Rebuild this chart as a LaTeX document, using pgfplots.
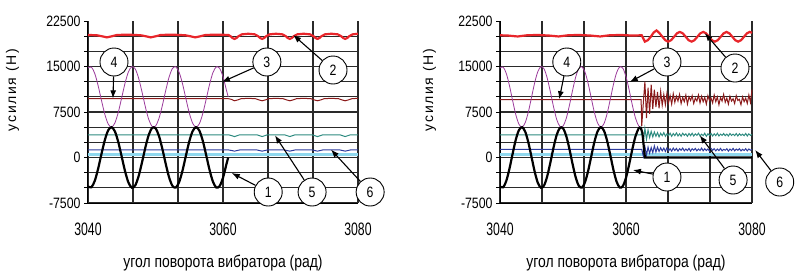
\documentclass[border=0pt]{standalone}
\usepackage{fontspec}
\setmainfont{Liberation Sans}
\newfontfamily\cond[FakeStretch=0.82]{Liberation Sans}
\newfontfamily\condx[FakeStretch=0.68]{Liberation Sans}
\newfontfamily\spaced[LetterSpace=12]{Liberation Sans}
\usepackage{pgfplots}
\pgfplotsset{compat=1.18}
\usetikzlibrary{arrows.meta}
\definecolor{cRed}{HTML}{E8262B}
\definecolor{cDark}{HTML}{8B1A1A}
\definecolor{cPurp}{HTML}{9B3A9B}
\definecolor{cTeal}{HTML}{2E8B80}
\definecolor{cBlue}{HTML}{2E3C9E}
\definecolor{cCyan}{HTML}{8FD8EE}
\definecolor{cGrid}{HTML}{2A2A2A}
\tikzset{
numc/.style={circle, draw=black, line width=0.9pt, fill=white, minimum size=28pt, inner sep=0pt, font={\cond\fontsize{15}{15}\selectfont}},
arr/.style={-{Latex[length=8pt,width=6pt]}, line width=1.1pt, black},
}
\pgfplotsset{panel/.style={
  scale only axis, height=182pt,
  xmin=3040, xmax=3080, ymin=-7500, ymax=22500,
  scaled y ticks=false, scaled x ticks=false,
  axis x line*=bottom, axis y line*=left,
  xtick={3040,3046.6667,3053.3333,3060,3066.6667,3073.3333,3080},
  xticklabels={3040,,,3060,,,3080},
  ytick={-7500,-5000,-2500,0,2500,5000,7500,10000,12500,15000,17500,20000},
  yticklabels={-7500,,,0,,,7500,,,15000,,},
  extra y ticks={22500}, extra y tick labels={22500},
  extra y tick style={grid=none},
  grid=major, major grid style={draw=cGrid, line width=1.1pt},
  xtick style={draw=none},
  ytick style={black, line width=0.8pt}, major tick length=4pt, tick align=outside,
  axis line style={black, line width=1pt},
  xticklabel style={font={\condx\fontsize{18}{20}\selectfont}, yshift=-12pt},
  yticklabel style={font={\cond\fontsize{15}{17}\selectfont}},
  clip=false,
  xlabel={угол поворота вибратора (рад)},
  ylabel={усилия (Н)},
  xlabel style={font={\cond\fontsize{17}{19}\selectfont}, at={(axis description cs:0.5,0)}, anchor=center, yshift=-60pt},
  ylabel style={font={\spaced\fontsize{14}{16}\selectfont}, at={(axis description cs:-0.28,0.62)}, anchor=center},
}}
\begin{document}
\begin{tikzpicture}
\useasboundingbox (0,0) rectangle (803pt,274pt);
% ---------------- left panel ----------------
\begin{axis}[panel, at={(88pt,71pt)}, anchor=south west, width=270pt]
\addplot[cCyan, line width=3pt] coordinates {(3040,500) (3080,500)};
\addplot[cBlue, line width=1pt] coordinates {
(3040,1250)(3060.8,1250)(3061.3,1150)(3061.7,1050)(3062.1,1150)(3062.5,1250)(3065.0,1250)(3065.4,1150)(3065.8,1050)(3066.2,1150)(3066.6,1250)(3069.1,1250)(3069.5,1150)(3069.9,1050)(3070.3,1150)(3070.7,1250)(3073.2,1250)(3073.6,1150)(3074.0,1050)(3074.4,1150)(3074.8,1250)(3077.3,1250)(3077.7,1150)(3078.1,1050)(3078.5,1150)(3078.9,1250)(3080,1250)};
\addplot[cTeal, line width=1pt] coordinates {
(3040,3750)(3060.8,3750)(3061.3,3600)(3061.7,3450)(3062.1,3600)(3062.5,3750)(3065.0,3750)(3065.4,3600)(3065.8,3450)(3066.2,3600)(3066.6,3750)(3069.1,3750)(3069.5,3600)(3069.9,3450)(3070.3,3600)(3070.7,3750)(3073.2,3750)(3073.6,3600)(3074.0,3450)(3074.4,3600)(3074.8,3750)(3077.3,3750)(3077.7,3600)(3078.1,3450)(3078.5,3600)(3078.9,3750)(3080,3750)};
\addplot[cDark, line width=1pt] coordinates {
(3040,9700)(3060.77,9700)(3061.2,9600)(3061.7,9350)(3062.2,9500)(3062.7,9700)(3063.75,9750)(3064.8,9700)(3065.3,9500)(3065.8,9350)(3066.3,9500)(3066.8,9700)(3067.85,9750)(3068.9,9700)(3069.4,9500)(3069.9,9350)(3070.4,9500)(3070.9,9700)(3071.95,9750)(3073.0,9700)(3073.5,9500)(3074.0,9350)(3074.5,9500)(3075.0,9700)(3076.05,9750)(3077.1,9700)(3077.6,9500)(3078.1,9350)(3078.6,9500)(3079.1,9700)(3080,9750)};
\addplot[cPurp, line width=0.8pt, smooth] coordinates {
(3040.0,14764)(3040.5,14909)(3041.0,13851)(3041.5,11851)(3042.0,9398)(3042.5,7092)(3043.0,5498)(3043.5,5006)(3044.0,5737)(3044.5,7512)(3045.0,9896)(3045.5,12306)(3046.0,14151)(3046.5,14979)(3047.0,14592)(3047.5,13074)(3048.0,10809)(3048.5,8344)(3049.0,6271)(3049.5,5135)(3050.0,5177)(3050.5,6399)(3051.0,8506)(3051.5,10973)(3052.0,13211)(3052.5,14651)(3053.0,14956)(3053.5,14057)(3054.0,12161)(3054.5,9728)(3055.0,7365)(3055.5,5664)(3056.0,5001)(3056.5,5574)(3057.0,7226)(3057.5,9564)(3058.0,12006)(3058.5,13957)(3059.0,14939)(3059.5,14706)(3060.0,13344)(3060.5,11141)(3060.77,10000)};
\addplot[black, line width=2.2pt, smooth] coordinates {
(3040.0,-4764)(3040.5,-4909)(3041.0,-3851)(3041.5,-1851)(3042.0,602)(3042.5,2908)(3043.0,4502)(3043.5,4994)(3044.0,4263)(3044.5,2488)(3045.0,104)(3045.5,-2306)(3046.0,-4151)(3046.5,-4979)(3047.0,-4592)(3047.5,-3074)(3048.0,-809)(3048.5,1656)(3049.0,3729)(3049.5,4865)(3050.0,4823)(3050.5,3601)(3051.0,1494)(3051.5,-973)(3052.0,-3211)(3052.5,-4651)(3053.0,-4956)(3053.5,-4057)(3054.0,-2161)(3054.5,272)(3055.0,2635)(3055.5,4336)(3056.0,4999)(3056.5,4426)(3057.0,2774)(3057.5,436)(3058.0,-2006)(3058.5,-3957)(3059.0,-4939)(3059.5,-4706)(3060.0,-3344)(3060.5,-1141)(3060.77,0)};
\addplot[cRed, line width=2.2pt] coordinates {
(3040.0,20200)(3041.3,20150)(3042.0,20000)(3042.8,19800)(3043.6,20000)(3044.3,20200)(3046.0,20250)(3047.8,20150)(3048.5,20000)(3049.3,19800)(3050.1,20000)(3050.8,20200)(3052.5,20250)(3054.4,20150)(3055.1,20000)(3055.9,19800)(3056.7,20000)(3057.4,20200)(3059.2,20250)(3060.8,20200)(3061.1,20000)(3061.4,19700)(3061.7,19550)(3062.0,19700)(3062.3,20000)(3062.8,20300)(3063.75,20400)(3064.7,20300)(3065.2,20000)(3065.5,19700)(3065.8,19550)(3066.1,19700)(3066.4,20000)(3066.9,20300)(3067.85,20400)(3068.8,20300)(3069.3,20000)(3069.6,19700)(3069.9,19550)(3070.2,19700)(3070.5,20000)(3071.0,20300)(3071.95,20400)(3072.9,20300)(3073.4,20000)(3073.7,19700)(3074.0,19550)(3074.3,19700)(3074.6,20000)(3075.1,20300)(3076.05,20400)(3077.0,20300)(3077.5,20000)(3077.8,19700)(3078.1,19550)(3078.4,19700)(3078.7,20000)(3079.2,20300)(3080.0,20400)};
\node[numc] (a4) at (axis cs:3043.85,15742) {4};
\draw[arr] (a4) -- (axis cs:3043.7,9750);
\node[numc] (a3) at (axis cs:3066.5,15742) {3};
\draw[arr] (a3) -- (axis cs:3059.85,12445);
\node[numc] (a2) at (axis cs:3076.3,14423) {2};
\draw[arr] (a2) -- (axis cs:3070.4,20200);
\node[numc] (a1) at (axis cs:3066.7,-5688) {1};
\draw[arr] (a1) -- (axis cs:3061.3,-2556);
\node[numc] (a5) at (axis cs:3073.2,-5688) {5};
\draw[arr] (a5) -- (axis cs:3067.7,3650);
\node[numc] (a6) at (axis cs:3081.8,-5688) {6};
\draw[arr] (a6) -- (axis cs:3076.0,1300);
\end{axis}
% ---------------- right panel ----------------
\begin{axis}[panel, at={(500pt,71pt)}, anchor=south west, width=252pt]
\addplot[cCyan, line width=3pt] coordinates {(3040,500) (3080,500)};
\addplot[cBlue, line width=1pt] coordinates {
(3040,1350)(3062.4,1350)
(3062.50,1350)(3062.75,200)(3063.00,1800)(3063.25,400)(3063.50,1700)(3063.75,700)(3064.00,1650)(3064.25,800)(3064.50,1900)(3064.75,900)(3065.00,1700)(3065.25,1000)(3065.50,1600)(3065.75,1100)(3066.00,1550)(3066.25,1000)(3066.50,1600)(3066.75,1100)(3067.00,1450)(3067.25,1050)(3067.50,1550)(3067.75,1150)(3068.00,1500)(3068.25,1050)(3068.50,1450)(3068.75,1200)(3069.00,1550)(3069.25,1100)(3069.50,1400)(3069.75,1150)(3070.00,1500)(3070.25,1050)(3070.50,1450)(3070.75,1200)(3071.00,1500)(3071.25,1100)(3071.50,1400)(3071.75,1150)(3072.00,1550)(3072.25,1100)(3072.50,1450)(3072.75,1150)(3073.00,1400)(3073.25,1050)(3073.50,1500)(3073.75,1200)(3074.00,1450)(3074.25,1100)(3074.50,1400)(3074.75,1150)(3075.00,1500)(3075.25,1100)(3075.50,1350)(3075.75,1200)(3076.00,1450)(3076.25,1050)(3076.50,1400)(3076.75,1150)(3077.00,1500)(3077.25,1100)(3077.50,1400)(3077.75,1200)(3078.00,1450)(3078.25,1100)(3078.50,1350)(3078.75,1150)(3079.00,1450)(3079.25,1100)(3079.50,1400)(3079.75,1200)(3080.00,1350)};
\addplot[cTeal, line width=1pt] coordinates {
(3040,3750)(3062.4,3750)
(3062.50,4600)(3062.75,2400)(3063.00,4800)(3063.25,3000)(3063.50,4500)(3063.75,3300)(3064.00,4300)(3064.25,3400)(3064.50,4200)(3064.75,3500)(3065.00,4100)(3065.25,3400)(3065.50,4000)(3065.75,3600)(3066.00,4100)(3066.25,3500)(3066.50,3900)(3066.75,3600)(3067.00,4000)(3067.25,3500)(3067.50,3950)(3067.75,3600)(3068.00,4050)(3068.25,3550)(3068.50,3900)(3068.75,3500)(3069.00,4000)(3069.25,3650)(3069.50,3900)(3069.75,3500)(3070.00,3950)(3070.25,3600)(3070.50,4000)(3070.75,3550)(3071.00,3900)(3071.25,3650)(3071.50,4000)(3071.75,3550)(3072.00,3850)(3072.25,3600)(3072.50,4000)(3072.75,3500)(3073.00,3900)(3073.25,3650)(3073.50,3950)(3073.75,3550)(3074.00,3900)(3074.25,3600)(3074.50,4000)(3074.75,3550)(3075.00,3850)(3075.25,3650)(3075.50,3950)(3075.75,3600)(3076.00,3850)(3076.25,3550)(3076.50,3950)(3076.75,3650)(3077.00,3850)(3077.25,3600)(3077.50,3950)(3077.75,3550)(3078.00,3900)(3078.25,3650)(3078.50,3850)(3078.75,3600)(3079.00,3950)(3079.25,3550)(3079.50,3900)(3079.75,3650)(3080.00,3800)};
\addplot[cDark, line width=1pt] coordinates {
(3040,9550)(3062.4,9550)
(3062.50,5200)(3062.75,9000)(3063.00,12500)(3063.25,6500)(3063.50,11500)(3063.75,7200)(3064.00,12000)(3064.25,8000)(3064.50,11200)(3064.75,8300)(3065.00,10800)(3065.25,8100)(3065.50,10900)(3065.75,8600)(3066.00,10400)(3066.25,8700)(3066.50,10600)(3066.75,9000)(3067.00,10200)(3067.25,8800)(3067.50,10500)(3067.75,9100)(3068.00,10100)(3068.25,9300)(3068.50,10400)(3068.75,8900)(3069.00,9900)(3069.25,9200)(3069.50,10300)(3069.75,8800)(3070.00,10000)(3070.25,9400)(3070.50,10200)(3070.75,8900)(3071.00,9800)(3071.25,9300)(3071.50,10300)(3071.75,9000)(3072.00,10100)(3072.25,9200)(3072.50,9900)(3072.75,8800)(3073.00,10200)(3073.25,9400)(3073.50,9800)(3073.75,9000)(3074.00,10300)(3074.25,9200)(3074.50,10000)(3074.75,8700)(3075.00,9900)(3075.25,9300)(3075.50,10400)(3075.75,9100)(3076.00,9800)(3076.25,8800)(3076.50,10100)(3076.75,9300)(3077.00,9700)(3077.25,8900)(3077.50,10200)(3077.75,9400)(3078.00,9600)(3078.25,8700)(3078.50,10000)(3078.75,9200)(3079.00,9800)(3079.25,8900)(3079.50,10300)(3079.75,9100)(3080.00,11200)};
\addplot[cPurp, line width=0.8pt, smooth] coordinates {
(3040.0,14764)(3040.5,14909)(3041.0,13851)(3041.5,11851)(3042.0,9398)(3042.5,7092)(3043.0,5498)(3043.5,5006)(3044.0,5737)(3044.5,7512)(3045.0,9896)(3045.5,12306)(3046.0,14151)(3046.5,14979)(3047.0,14592)(3047.5,13074)(3048.0,10809)(3048.5,8344)(3049.0,6271)(3049.5,5135)(3050.0,5177)(3050.5,6399)(3051.0,8506)(3051.5,10973)(3052.0,13211)(3052.5,14651)(3053.0,14956)(3053.5,14057)(3054.0,12161)(3054.5,9728)(3055.0,7365)(3055.5,5664)(3056.0,5001)(3056.5,5574)(3057.0,7226)(3057.5,9564)(3058.0,12006)(3058.5,13957)(3059.0,14939)(3059.5,14706)(3060.0,13344)(3060.5,11141)(3061.0,8661)(3061.5,6517)(3062.0,5223)(3062.3,5010)};
\addplot[black, line width=2.2pt, smooth] coordinates {
(3040.0,-4764)(3040.5,-4909)(3041.0,-3851)(3041.5,-1851)(3042.0,602)(3042.5,2908)(3043.0,4502)(3043.5,4994)(3044.0,4263)(3044.5,2488)(3045.0,104)(3045.5,-2306)(3046.0,-4151)(3046.5,-4979)(3047.0,-4592)(3047.5,-3074)(3048.0,-809)(3048.5,1656)(3049.0,3729)(3049.5,4865)(3050.0,4823)(3050.5,3601)(3051.0,1494)(3051.5,-973)(3052.0,-3211)(3052.5,-4651)(3053.0,-4956)(3053.5,-4057)(3054.0,-2161)(3054.5,272)(3055.0,2635)(3055.5,4336)(3056.0,4999)(3056.5,4426)(3057.0,2774)(3057.5,436)(3058.0,-2006)(3058.5,-3957)(3059.0,-4939)(3059.5,-4706)(3060.0,-3344)(3060.5,-1141)(3061.0,1339)(3061.5,3483)(3062.0,4777)(3062.3,4990)};
\addplot[black, line width=2.2pt] coordinates {(3062.3,4990)(3062.6,4100)(3062.85,1500)(3063.0,0)(3080,0)};
\addplot[cRed, line width=2.2pt] coordinates {
(3040.0,20150)(3041.3,20100)(3042.8,19950)(3044.3,20150)(3046.0,20200)(3047.8,20100)(3049.3,19950)(3050.8,20150)(3052.5,20200)(3054.4,20100)(3055.9,19950)(3057.4,20150)(3059.2,20200)(3061.0,20100)(3062.5,20150)(3062.8,19500)(3063.0,19100)
(3063.46,19334)(3063.93,19900)(3064.39,20600)(3064.85,20950)(3065.31,20500)(3065.78,19900)(3066.24,19334)(3066.7,19100)(3067.16,19334)(3067.63,19900)(3068.09,20466)(3068.55,20700)(3069.01,20466)(3069.48,19900)(3069.94,19334)(3070.4,19100)(3070.86,19334)(3071.33,19900)(3071.79,20466)(3072.25,20700)(3072.71,20466)(3073.18,19900)(3073.64,19334)(3074.1,19100)(3074.56,19334)(3075.03,19900)(3075.49,20466)(3075.95,20700)(3076.41,20466)(3076.88,19900)(3077.34,19334)(3077.8,19100)(3078.26,19334)(3078.73,19900)(3079.19,20466)(3079.65,20700)(3080.0,20550)};
\node[numc] (b4) at (axis cs:3050.6,15742) {4};
\draw[arr] (b4) -- (axis cs:3049.4,9600);
\node[numc] (b3) at (axis cs:3066.5,15742) {3};
\draw[arr] (b3) -- (axis cs:3060.6,12445);
\node[numc] (b2) at (axis cs:3077.3,14752) {2};
\draw[arr] (b2) -- (axis cs:3072.5,20500);
\node[numc] (b1) at (axis cs:3066.5,-3215) {1};
\draw[arr] (b1) -- (axis cs:3061.1,-2061);
\node[numc] (b5) at (axis cs:3077.0,-3710) {5};
\draw[arr] (b5) -- (axis cs:3071.7,3650);
\node[numc] (b6) at (axis cs:3084.4,-4039) {6};
\draw[arr] (b6) -- (axis cs:3080.5,1236);
\end{axis}
\end{tikzpicture}
\end{document}
